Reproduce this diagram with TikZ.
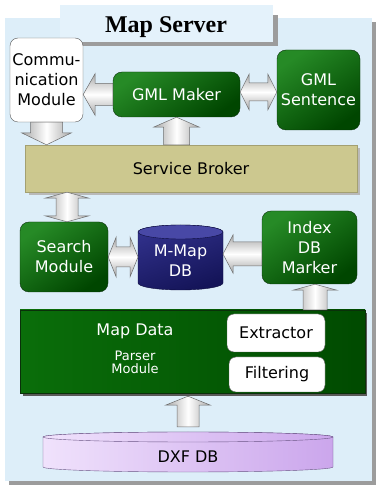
\documentclass[tikz,border=0pt]{standalone}
\usepackage{fontspec}
\setmainfont{DejaVu Sans}
\newfontfamily\titlefont{Liberation Serif}
\usetikzlibrary{calc}
\definecolor{panel}{HTML}{DDEEF9}
\definecolor{tabc}{HTML}{E4F2FB}
\definecolor{shadowc}{HTML}{9C9C9C}
\definecolor{gl}{HTML}{268A26}
\definecolor{gd}{HTML}{004600}
\definecolor{pl}{HTML}{0A6E0A}
\definecolor{pm}{HTML}{0F8A0F}
\definecolor{pr}{HTML}{004A00}
\definecolor{gline}{HTML}{0A300A}
\definecolor{sbc}{HTML}{CCC88F}
\definecolor{navyl}{HTML}{30308A}
\definecolor{navyd}{HTML}{141458}
\definecolor{navytop}{HTML}{4848A6}
\definecolor{lavl}{HTML}{F0E2FC}
\definecolor{lavd}{HTML}{CBA6EC}
\definecolor{lavline}{HTML}{6A5585}
\definecolor{arrg}{HTML}{A8A8A8}
\definecolor{arrline}{HTML}{6E6E6E}
\tikzset{
  gbox/.style={rounded corners=9pt, draw=gline, top color=gl, bottom color=gd, shading angle=35,
    text=white, align=center, inner sep=0pt},
  wbox/.style={rounded corners=8pt, draw=gray!70!black, fill=white, align=center, inner sep=0pt},
  anchorbox/.style={inner sep=0pt, outer sep=0pt},
  arrh/.style={draw=arrline, line width=0.5pt, top color=arrg, bottom color=arrg, middle color=white},
  arrv/.style={draw=arrline, line width=0.5pt, left color=arrg, right color=arrg, middle color=white},
}
% left-pointing arrow: tail, tip, shaft half, head half, head length
\newcommand\arrL[5]{\draw[arrh] let \p1=(#1),\p2=(#2) in (\x1,\y1+#3) -- (\x2+#5,\y1+#3) -- (\x2+#5,\y1+#4) -- (\x2,\y1) -- (\x2+#5,\y1-#4) -- (\x2+#5,\y1-#3) -- (\x1,\y1-#3) -- cycle;}
\newcommand\arrU[5]{\draw[arrv] let \p1=(#1),\p2=(#2) in (\x1-#3,\y1) -- (\x1-#3,\y2-#5) -- (\x1-#4,\y2-#5) -- (\x1,\y2) -- (\x1+#4,\y2-#5) -- (\x1+#3,\y2-#5) -- (\x1+#3,\y1) -- cycle;}
\newcommand\arrD[5]{\draw[arrv] let \p1=(#1),\p2=(#2) in (\x1-#3,\y1) -- (\x1-#3,\y2+#5) -- (\x1-#4,\y2+#5) -- (\x1,\y2) -- (\x1+#4,\y2+#5) -- (\x1+#3,\y2+#5) -- (\x1+#3,\y1) -- cycle;}
\newcommand\darrH[5]{\draw[arrh] let \p1=(#1),\p2=(#2) in (\x1,\y1) -- (\x1+#5,\y1+#4) -- (\x1+#5,\y1+#3) -- (\x2-#5,\y1+#3) -- (\x2-#5,\y1+#4) -- (\x2,\y1) -- (\x2-#5,\y1-#4) -- (\x2-#5,\y1-#3) -- (\x1+#5,\y1-#3) -- (\x1+#5,\y1-#4) -- cycle;}
\newcommand\darrV[5]{\draw[arrv] let \p1=(#1),\p2=(#2) in (\x1,\y1) -- (\x1+#4,\y1+#5) -- (\x1+#3,\y1+#5) -- (\x1+#3,\y2-#5) -- (\x1+#4,\y2-#5) -- (\x1,\y2) -- (\x1-#4,\y2-#5) -- (\x1-#3,\y2-#5) -- (\x1-#3,\y1+#5) -- (\x1-#4,\y1+#5) -- cycle;}
\begin{document}
\begin{tikzpicture}[x=1pt,y=1pt,font=\fontsize{16}{20}\selectfont]
\useasboundingbox (0,0) rectangle (379,488);
% panel
\fill[shadowc] (9,3) rectangle (376,466);
\fill[panel] (5,7) rectangle (372,470);
% title tab
\fill[shadowc] (64,442) rectangle (278,473);
\fill[tabc] (60,446) rectangle (273,483);
\node[font=\titlefont\bfseries\fontsize{24}{26}\selectfont, anchor=base] (title) at (166,455) {Map Server};

% top row
\node[wbox, minimum width=73pt, minimum height=84pt] (comm) at (46.5,408) {Commu-\\nication\\Module};
\node[gbox, minimum width=127pt, minimum height=45pt] (gml) at (176.5,393.5) {GML Maker};
\node[gbox, minimum width=83pt, minimum height=80pt] (sent) at (318.5,398) {GML\\Sentence};

% service broker
\fill[gray!55] (29,293) rectangle (360,340);
\node[draw=sbc!80!black, fill=sbc, minimum width=332pt, minimum height=47pt, inner sep=0pt] (sb) at (191,319.5) {Service Broker};

% middle row
\node[gbox, minimum width=88pt, minimum height=70pt] (search) at (64,231) {Search\\Module};
\node[anchorbox, minimum width=85pt, minimum height=65pt] (mmap) at (180.5,230.5) {};
\path[draw=navyd!70!black, top color=navyl, bottom color=navyd, shading angle=20]
  ([yshift=-7pt]mmap.north west) -- ([yshift=7pt]mmap.south west)
  arc[start angle=180, end angle=360, x radius=42.5pt, y radius=7pt]
  -- ([yshift=-7pt]mmap.north east)
  arc[start angle=0, end angle=180, x radius=42.5pt, y radius=7pt] -- cycle;
\draw[draw=navyd!70!black, fill=navytop] ([yshift=-7pt]mmap.north) ellipse[x radius=42.5pt, y radius=7pt];
\node[text=white, align=center] (mmaptext) at (180.5,227) {M-Map\\DB};
\node[gbox, minimum width=95pt, minimum height=73pt] (index) at (309.5,240.5) {Index\\DB\\Marker};

% parser module
\fill[gray!70!black] (23,92) rectangle (367,175);
\node[draw=gline, left color=pl, middle color=pm, right color=pr, minimum width=345pt, minimum height=83pt, inner sep=0pt] (parser) at (192.5,136.5) {};
\node[text=white] (mapdata) at (135,157) {Map Data};
\node[text=white, align=center, font=\fontsize{13}{13.5}\selectfont] (parsertext) at (135,125.5) {Parser\\Module};
\node[wbox, rounded corners=7pt, minimum width=98pt, minimum height=38pt] (extr) at (276,155) {Extractor};
\node[wbox, rounded corners=7pt, minimum width=96pt, minimum height=35pt] (filt) at (277,113.5) {Filtering};

% DXF DB
\node[anchorbox, minimum width=290pt, minimum height=40pt] (dxf) at (188,36) {};
\path[draw=lavline, left color=lavl, right color=lavd]
  ([yshift=-5pt]dxf.north west) -- ([yshift=5pt]dxf.south west)
  arc[start angle=180, end angle=360, x radius=145pt, y radius=5pt]
  -- ([yshift=-5pt]dxf.north east)
  arc[start angle=0, end angle=180, x radius=145pt, y radius=5pt] -- cycle;
\draw[draw=lavline, left color=lavl, right color=lavd] ([yshift=-5pt]dxf.north) ellipse[x radius=145pt, y radius=5pt];
\node (dxftext) at (188,31) {DXF DB};

% connectors
\coordinate (sbx) at ([xshift=3pt]search.north);
\coordinate (ix) at ([xshift=5.5pt]index.south);
\coordinate (ptip) at ([yshift=-3pt]parser.south);
\arrL{gml.west}{comm.east}{11pt}{21pt}{12pt}
\darrH{[yshift=2.5pt]gml.east}{sent.west}{9pt}{18pt}{9pt}
\arrU{gml.south |- sb.north}{gml.south}{13pt}{23pt}{10pt}
\arrD{comm.south}{comm.south |- sb.north}{16pt}{25pt}{12pt}
\darrV{sbx}{sbx |- sb.south}{11pt}{22pt}{6pt}
\darrH{search.east}{search.east -| mmap.west}{10pt}{20pt}{8pt}
\arrL{[yshift=-6.5pt]index.west}{mmap.east}{12pt}{19pt}{10pt}
\arrU{ix |- parser.north}{ix}{12pt}{22pt}{6pt}
\arrU{[yshift=5pt]dxf.north}{ptip}{11pt}{22.5pt}{9pt}
\end{tikzpicture}
\end{document}
